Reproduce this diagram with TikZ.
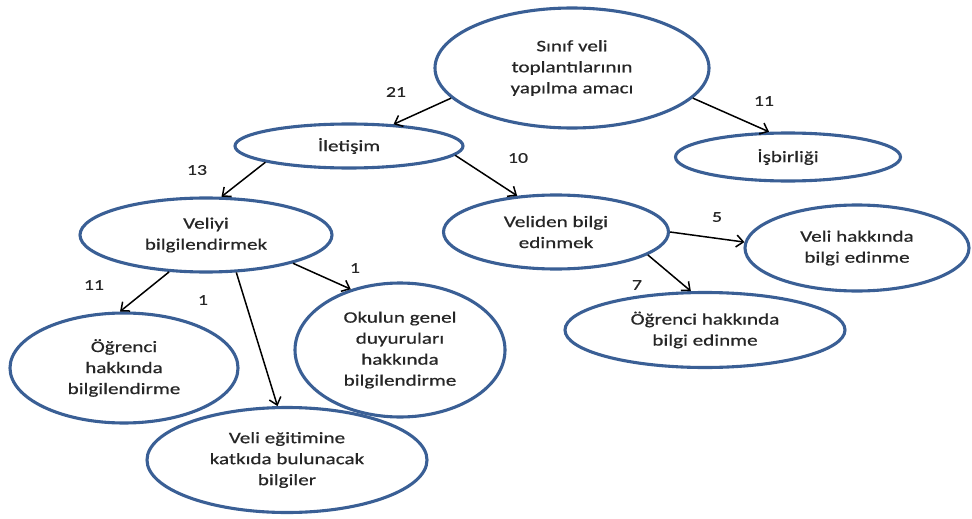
\documentclass[tikz,border=0pt]{standalone}
\usepackage{fontspec}
\setmainfont{Carlito}[FakeStretch=1.32,FakeBold=0.6]
\usetikzlibrary{shapes.geometric,arrows.meta}
\definecolor{rim}{HTML}{3A5F95}
\definecolor{ink}{HTML}{262626}
\tikzset{
  bubble/.style={ellipse, draw=rim, line width=3.1pt, fill=white, inner sep=0pt,
    text=ink, align=center, font=\fontsize{16}{21}\selectfont},
  link/.style={line width=1.5pt, -{Straight Barb[length=7pt,width=12pt,line width=1.5pt]}},
  count/.style={text=ink, font=\fontsize{15}{18}\selectfont, inner sep=0pt}
}
\begin{document}
\begin{tikzpicture}[x=1pt,y=-1pt]
\useasboundingbox (0,0) rectangle (972,519);
% nodes of the tree
\node[bubble, minimum width=274pt, minimum height=120pt] (root) at (572,68) {Sınıf veli\\toplantılarının\\yapılma amacı};
\node[bubble, minimum width=228pt, minimum height=44pt] (ilet) at (349,146) {İletişim};
\node[bubble, minimum width=225pt, minimum height=48pt] (isb) at (788,157) {İşbirliği};
\node[bubble, minimum width=252pt, minimum height=74pt] (veliyi) at (206,235) {Veliyi\\bilgilendirmek};
\node[bubble, minimum width=225pt, minimum height=74pt] (veliden) at (556,232) {Veliden bilgi\\edinmek};
\node[bubble, minimum width=224pt, minimum height=86pt] (velihak) at (857,248) {Veli hakkında\\bilgi edinme};
\node[bubble, minimum width=280pt, minimum height=75pt] (ogredin) at (705,330) {Öğrenci hakkında\\bilgi edinme};
\node[bubble, minimum width=228pt, minimum height=110pt] (ogrbil) at (124,368) {Öğrenci\\hakkında\\bilgilendirme};
\node[bubble, minimum width=210pt, minimum height=134pt] (okul) at (400,350) {Okulun genel\\duyuruları\\hakkında\\bilgilendirme};
\node[bubble, minimum width=280pt, minimum height=105pt] (egitim) at (287,460) {Veli eğitimine\\katkıda bulunacak\\bilgiler};
% connectors
\draw[link] (root.194) -- (ilet.26);
\draw[link] (root.346) -- (isb.127);
\draw[link] (ilet.191) -- (veliyi.68);
\draw[link] (ilet.355) -- (veliden.137);
\draw[link] (veliyi.225) -- (ogrbil.94);
\draw[link] (veliyi.309) -- (egitim.100);
\draw[link] (veliyi.342) -- (okul.129);
\draw[link] (veliden.0) -- (velihak.177);
\draw[link] (veliden.346) -- (ogredin.110);
% frequencies
\node[count] (n21) at (396,92) {21};
\node[count] (n11a) at (764,101) {11};
\node[count] (n13) at (197,170) {13};
\node[count] (n10) at (518,158) {10};
\node[count] (n11b) at (94,285) {11};
\node[count] (n1a) at (203,300) {1};
\node[count] (n1b) at (355,268) {1};
\node[count] (n5) at (717,217) {5};
\node[count] (n7) at (637,285) {7};
\end{tikzpicture}
\end{document}
